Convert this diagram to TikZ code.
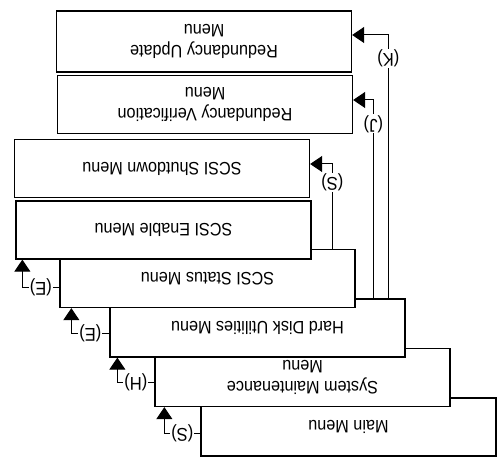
\documentclass[tikz,border=0pt]{standalone}
\usepackage{fontspec}
\setmainfont[FakeStretch=0.9]{Liberation Sans}
\usetikzlibrary{arrows.meta}
\begin{document}
\begin{tikzpicture}[x=1pt,y=-1pt,
  menubox/.style={draw, line width=1.3pt, fill=white, minimum width=295pt, minimum height=58pt, inner sep=0pt},
  menutext/.style={rotate=180, align=center, inner sep=0pt, font=\fontsize{18}{20.5}\selectfont},
  conn/.style={line width=1pt, -{Triangle[length=12pt,width=16pt]}},
  lab/.style={fill=white, inner sep=0.8pt, rotate=180, font=\fontsize{18.5}{18}\selectfont}]
\useasboundingbox (0,0) rectangle (498,465);
% staircase of menus (later ones in front)
\node[menubox] (Main) at (348.5,427) {};
\node[menutext] (MainT) at (Main.center) {Main Menu};
\node[menubox] (SysM) at (302.5,377.5) {};
\node[menutext] (SysMT) at (SysM.center) {System Maintenance\\Menu};
\node[menubox] (HDU) at (257.5,328) {};
\node[menutext] (HDUT) at (HDU.center) {Hard Disk Utilities Menu};
\node[menubox] (Status) at (207.5,278.5) {};
\node[menutext] (StatusT) at (Status.center) {SCSI Status Menu};
\node[menubox] (Enable) at (163.5,230) {};
\node[menutext] (EnableT) at (Enable.center) {SCSI Enable Menu};
% separate menus
\node[menubox] (Shut) at (162,168.5) {};
\node[menutext] (ShutT) at (Shut.center) {SCSI Shutdown Menu};
\node[menubox] (Verif) at (205,104.5) {};
\node[menutext] (VerifT) at (Verif.center) {Redundancy Verification\\Menu};
\node[menubox, minimum height=61pt] (Upd) at (204,41.5) {};
\node[menutext] (UpdT) at (Upd.center) {Redundancy Update\\Menu};
% left connectors
\draw[conn] ([yshift=-6pt]Main.west) -| node[lab, pos=0.25] {(S)} ([xshift=10pt]SysM.south west);
\draw[conn] ([yshift=-4.5pt]SysM.west) -| node[lab, pos=0.25] {(H)} ([xshift=8pt]HDU.south west);
\draw[conn] ([yshift=-5pt]HDU.west) -| node[lab, pos=0.25] {(E)} ([xshift=12pt]Status.south west);
\draw[conn] ([yshift=-8.5pt]Status.west) -| node[lab, pos=0.25] {(E)} ([xshift=7pt]Enable.south west);
% right connectors
\draw[conn] ([xshift=273pt]Status.north west) |- node[lab, pos=0.39] {(S)} ([yshift=4.5pt]Shut.east);
\draw[conn] ([xshift=264pt]HDU.north west) |- node[lab, pos=0.44] {(J)} ([yshift=4.5pt]Verif.east);
\draw[conn] ([xshift=279pt]HDU.north west) |- node[lab, pos=0.455] {(K)} ([yshift=6.5pt]Upd.east);
\end{tikzpicture}
\end{document}
